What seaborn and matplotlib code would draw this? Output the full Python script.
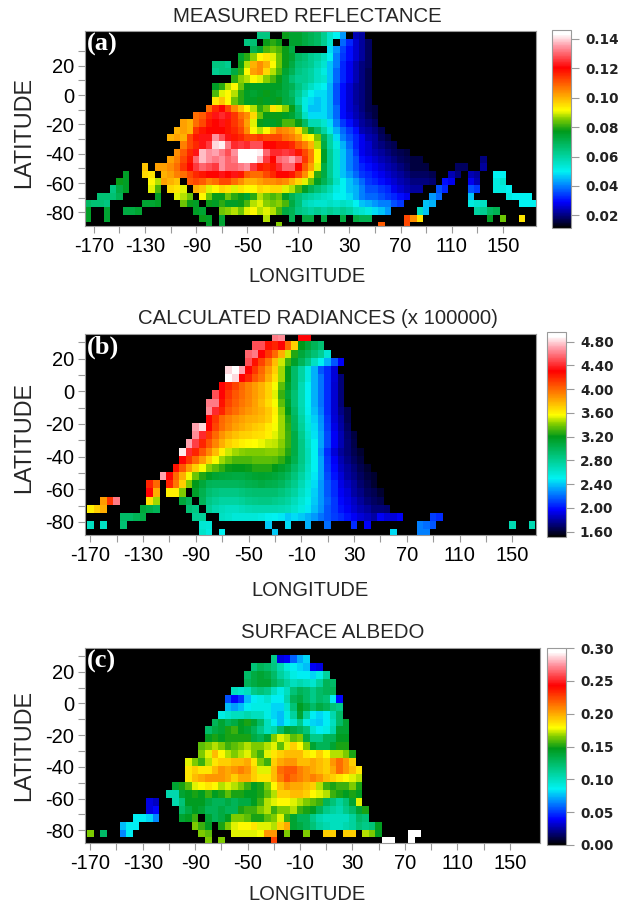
import numpy as np
import pandas as pd
import matplotlib.pyplot as plt
import seaborn as sns
from matplotlib.colors import LinearSegmentedColormap

# each entry: latitude, first longitude of the run, values going east every 5 deg
# panel a: reflectance x 1000
refl_cells = [
    (41, -40, [64, 64]), (41, -20, [78, 75, 75, 72, 70, 68, 62, 55, 50, 42]), (41, 35, [24, 22]),
    (36, -50, [64, 66]), (36, -35, [78, 80, 78]), (36, -15, [75, 75, 72, 70, 68, 62, 55]), (36, 25, [38, 32, 26, 22, 18]),
    (31, -45, [70, 74, 82, 84, 82, 78, 72]), (31, 15, [48, 42, 35, 30, 26, 22, 18]),
    (26, -55, [75, 80, 86, 92, 94, 90, 84, 78, 74, 68, 66, 62, 60, 56, 50, 40, 34, 30, 26, 22, 18]),
    (21, -75, [64, 64, 62]), (21, -55, [78, 88, 100, 104, 100, 92, 84, 78, 72, 66, 64, 62, 58, 54, 46, 40, 32, 28, 24, 20, 18]),
    (16, -75, [62, 64, 64]), (16, -60, [72, 80, 92, 102, 104, 96, 88, 82, 74, 70, 64, 62, 60, 56, 52, 46, 38, 32, 28, 24, 20, 17]),
    (11, -60, [80, 86, 88, 92, 90, 86, 82, 78, 72, 66, 62, 62, 60, 56, 54, 46, 38, 32, 28, 24, 20, 17]),
    (6, -75, [76, 80, 88, 92, 84, 78, 76, 76, 76, 76, 76, 72, 70, 64, 60, 56, 52, 50, 44, 36, 30, 26, 22, 20, 17]),
    (1, -75, [82, 90, 92, 88, 80, 76, 74, 76, 78, 76, 74, 72, 68, 62, 56, 50, 48, 48, 44, 36, 30, 26, 22, 20, 17]),
    (-4, -75, [94, 98, 92, 84, 80, 76, 76, 78, 76, 76, 78, 72, 70, 60, 52, 48, 46, 48, 44, 36, 30, 26, 22, 20, 17]),
    (-9, -80, [108, 116, 120, 112, 104, 98, 92, 88, 80, 84, 94, 90, 86, 78, 66, 52, 46, 46, 48, 44, 38, 30, 26, 23, 20, 17, 16]),
    (-14, -90, [108, 110, 116, 122, 124, 122, 114, 108, 104, 96, 84, 78, 78, 78, 76, 74, 68, 56, 48, 48, 48, 44, 38, 30, 27, 24, 21, 18, 16]),
    (-19, -100, [102, 100]),
    (-19, -90, [108, 112, 118, 120, 122, 118, 114, 110, 102, 90, 78, 76, 76, 78, 82, 82, 78, 68, 58, 58, 54, 48, 40, 34, 30, 26, 22, 20, 18]),
    (-24, -105, [100, 102, 100]),
    (-24, -90, [114, 118, 120, 120, 120, 118, 116, 112, 104, 92, 88, 92, 100, 106, 104, 102, 96, 84, 74, 68, 60, 52, 44, 38, 34, 30, 24, 22, 20, 17]),
    (-29, -110, [100, 102, 100]),
    (-29, -95, [112, 118, 122, 122, 134, 128, 122, 118, 116, 112, 112, 114, 112, 112, 112, 108, 106, 102, 94, 92, 85, 70, 60, 48, 40, 36, 32, 28, 24, 22, 18, 16]),
    (-34, -100, [106, 112, 116, 122, 126, 140, 142, 132, 124, 126, 124, 128, 128, 120, 120, 118, 118, 116, 110, 106, 100, 88, 72, 60, 52, 44, 38, 32, 28, 26, 22, 20, 18, 17]),
    (-39, -105, [104, 110, 116, 122, 138, 134, 136, 132, 128, 134, 145, 146, 146, 142, 130, 124, 124, 126, 124, 118, 112, 106, 92, 76, 62, 54, 46, 40, 34, 28, 26, 24, 22, 20, 18, 17, 16]),
    (-44, -110, [102, 106, 112, 118, 130, 138, 134, 132, 134, 130, 132, 144, 146, 144, 138, 126, 120, 130, 132, 136, 130, 114, 106, 92, 76, 62, 54, 46, 40, 36, 30, 28, 26, 24, 22, 20, 18, 17, 16, 16]),
    (-44, 135, [20]),
    (-49, -130, [98]),
    (-49, -120, [102, 102, 104, 108, 114, 120, 126, 130, 128, 126, 134, 130, 130, 132, 134, 126, 118, 116, 118, 124, 130, 130, 120, 110, 102, 90, 72, 62, 54, 46, 40, 36, 32, 30, 28, 26, 24, 22, 20, 18, 16, 16, 16]),
    (-49, 115, [18, 18]), (-49, 135, [22]),
    (-54, -145, [76]), (-54, -130, [96, 94]),
    (-54, -115, [100, 102, 106, 108, 112, 116, 118, 120, 120, 122, 120, 122, 118, 110, 108, 108, 112, 116, 120, 120, 118, 112, 104, 94, 80, 72, 62, 54, 46, 42, 38, 34, 32, 30, 28, 26, 24, 22, 20, 18, 18, 18, 17]),
    (-54, 110, [24, 20]), (-54, 125, [24, 22]), (-54, 145, [50, 50]),
    (-59, -150, [78, 76]), (-59, -125, [92, 88]), (-59, -115, [102, 100, 98]),
    (-59, -95, [110, 112, 110, 106, 108, 112, 112, 108, 104, 100, 100, 102, 104, 104, 106, 104, 100, 96, 90, 84, 76, 70, 64, 56, 50, 46, 42, 38, 34, 32, 30, 28, 26, 24, 22, 20, 20, 20, 19]),
    (-59, 105, [30, 28]), (-59, 125, [28, 24]), (-59, 145, [52, 54]),
    (-64, -155, [64, 72, 76]), (-64, -125, [90, 82]), (-64, -110, [96, 94, 90]),
    (-64, -90, [100, 98, 90, 92, 96, 94, 90, 94, 92, 92, 96, 94, 96, 96, 90, 88, 82, 76, 70, 66, 62, 58, 52, 50, 46, 44, 40, 36, 36, 34, 32, 28, 26, 24, 22, 22]),
    (-64, 100, [36, 32]), (-64, 125, [36, 34]), (-64, 145, [52, 52, 50]),
    (-69, -165, [66, 66, 66, 70]), (-69, -120, [76]), (-69, -105, [90, 88, 84]),
    (-69, -85, [92, 84, 78, 78, 84, 80, 78, 74, 80, 88, 84, 82, 84, 76, 70, 66, 62, 60, 58, 56, 54, 50, 50, 48, 44, 40, 38, 38, 36, 34, 32, 30, 28]),
    (-69, 95, [42, 38]), (-69, 125, [46]), (-69, 155, [52, 50, 50, 50]),
    (-74, -175, [68, 66, 66, 64]), (-74, -130, [74, 74, 76]), (-74, -100, [84, 78, 76]),
    (-74, -80, [78, 76, 80, 76, 76, 78, 82, 88, 90, 86, 84, 86, 82, 72, 66, 58, 56, 54, 54, 56, 54, 56, 54, 50, 46, 44, 42, 40, 40, 36, 34]),
    (-74, 90, [46, 44]), (-74, 125, [52, 54, 56]), (-74, 165, [50, 50, 50]),
    (-79, -175, [76]), (-79, -160, [74]), (-79, -145, [72, 72, 74]), (-79, -90, [76, 74]),
    (-79, -70, [84, 86, 88, 84, 90, 92, 88, 90, 88, 82, 72, 70, 64, 62, 60, 62, 60, 62, 60, 62, 60, 56, 54, 52, 48, 46, 42]),
    (-79, 85, [56, 46]), (-79, 130, [60, 62, 68, 70]),
    (-84, -175, [76]), (-84, -160, [74]), (-84, -85, [78, 76]), (-84, -70, [74]),
    (-84, -35, [88]), (-84, -15, [70]), (-84, -5, [72, 72]), (-84, 10, [72]), (-84, 25, [72]), (-84, 35, [72, 70, 70]),
    (-84, 75, [112, 104, 94]), (-84, 140, [76]), (-84, 150, [84]), (-84, 165, [94]),
    (-89, -80, [76]), (-89, -70, [74]), (-89, -25, [86]), (-89, 55, [110]), (-89, 75, [112]),
]

# panel b: radiance x 100 (already scaled by 100000 in the title)
rad_cells = [
    (33, -30, [460, 465]), (33, -10, [430, 430]),
    (28, -35, [425, 420, 430, 400, 370, 320, 310, 300, 290]), (28, -45, [450, 450]),
    (23, -50, [455, 460, 430, 415, 400, 380, 350, 325, 310, 300, 290, 280, 260]),
    (18, -50, [450, 425, 410, 395, 375, 350, 330, 315, 300, 285, 265, 250, 235, 215, 195]),
    (13, -65, [480, 490, 470, 430, 415, 400, 385, 370, 345, 320, 295, 275, 255, 235, 215, 205, 190]),
    (8, -65, [490, 480, 430, 420, 405, 395, 380, 365, 345, 320, 295, 275, 255, 235, 222, 205, 190, 172]),
    (3, -70, [430, 420, 410, 400, 392, 385, 378, 368, 355, 335, 315, 295, 270, 250, 235, 222, 205, 188, 172]),
    (-2, -75, [450, 430, 415, 405, 398, 392, 385, 378, 368, 352, 330, 310, 290, 270, 250, 235, 222, 205, 188, 172]),
    (-7, -80, [460, 460, 425, 410, 402, 396, 390, 384, 376, 366, 355, 335, 315, 290, 270, 250, 235, 222, 205, 188, 172]),
    (-12, -80, [465, 440, 420, 405, 398, 392, 386, 382, 378, 372, 360, 342, 320, 295, 272, 252, 238, 225, 205, 188, 175, 165]),
    (-17, -80, [430, 415, 400, 393, 388, 384, 380, 378, 375, 370, 358, 345, 325, 298, 275, 255, 242, 228, 208, 190, 178, 165]),
    (-22, -90, [470, 480, 430, 410, 398, 390, 384, 380, 376, 372, 368, 362, 355, 345, 328, 300, 278, 258, 244, 230, 210, 192, 180, 168]),
    (-27, -90, [465, 440, 415, 400, 388, 380, 374, 370, 368, 366, 364, 360, 352, 345, 330, 305, 282, 262, 246, 232, 212, 195, 182, 170, 162]),
    (-32, -95, [470, 445, 420, 405, 392, 380, 370, 364, 360, 358, 356, 354, 350, 348, 342, 330, 305, 285, 265, 250, 232, 212, 195, 182, 172, 164]),
    (-37, -100, [485, 440, 420, 405, 390, 375, 360, 350, 345, 342, 340, 340, 340, 342, 342, 338, 325, 305, 285, 268, 250, 228, 205, 190, 178, 172, 165, 160]),
    (-42, -100, [430, 415, 400, 385, 370, 355, 345, 338, 332, 332, 332, 335, 335, 335, 333, 328, 318, 302, 285, 268, 250, 232, 208, 195, 182, 175, 168, 162]),
    (-47, -105, [425, 405, 385, 370, 355, 342, 335, 328, 322, 320, 320, 322, 325, 325, 325, 320, 315, 308, 295, 282, 265, 250, 232, 210, 198, 185, 178, 172, 165, 160]),
    (-52, -115, [470, 430, 400, 380, 355, 338, 325, 318, 312, 310, 308, 306, 306, 310, 312, 314, 312, 310, 305, 298, 288, 275, 262, 248, 232, 212, 200, 190, 180, 175, 168, 162, 160]),
    (-57, -125, [420, 400]),
    (-57, -110, [420, 395, 370, 340, 320, 310, 300, 298, 298, 298, 298, 300, 302, 304, 306, 304, 302, 298, 290, 282, 270, 258, 245, 230, 215, 205, 192, 185, 178, 170, 165, 160]),
    (-62, -125, [430, 380]), (-62, -110, [360, 360, 340]),
    (-62, -90, [315, 302, 292, 288, 285, 285, 285, 288, 290, 292, 292, 292, 292, 288, 282, 275, 265, 255, 242, 230, 215, 205, 195, 190, 180, 175, 168, 165, 160]),
    (-67, -160, [385, 415, 460]), (-67, -125, [365, 345]), (-67, -100, [310, 300]),
    (-67, -85, [300, 285, 280, 275, 275, 275, 278, 282, 284, 285, 285, 282, 280, 275, 268, 260, 252, 240, 230, 218, 208, 198, 192, 185, 178, 172, 168, 165]),
    (-72, -170, [360, 370, 380]), (-72, -130, [310, 305, 300]), (-72, -95, [290, 285]),
    (-72, -80, [280, 272, 268, 265, 265, 268, 270, 272, 272, 272, 272, 270, 268, 262, 255, 248, 238, 228, 215, 208, 200, 195, 188, 182, 178, 172, 172, 170]),
    (-77, -145, [295, 295, 300, 305]), (-77, -90, [280, 278]),
    (-77, -70, [265, 262, 258, 258, 258, 258, 255, 252, 250, 248, 240, 245, 240, 235, 230, 222, 215, 210, 205, 200, 195, 190, 185, 180, 195, 190, 190, 195]),
    (-77, 90, [210, 205]),
    (-82, -170, [265]), (-82, -160, [265]), (-82, -145, [290]), (-82, -85, [260, 258]),
    (-82, -35, [240]), (-82, -20, [245]), (-82, -5, [235]), (-82, 10, [220]), (-82, 30, [205]), (-82, 40, [195]),
    (-82, 80, [225, 220, 215]), (-82, 150, [270]), (-82, 165, [270]),
    (-87, -85, [262, 255]), (-87, -70, [250]), (-87, -30, [240]), (-87, 60, [245]), (-87, 80, [225, 225]),
]

# panel c: albedo x 1000
alb_cells = [
    (28, -30, [115, 35, 38, 58, 72, 80]),
    (23, -45, [120, 130, 125, 118, 105, 92, 85, 80, 75, 38, 35]),
    (18, -50, [125, 135, 140, 135, 125, 110, 100, 90, 85, 85, 80, 90, 110]),
    (13, -50, [130, 135, 140, 140, 130, 120, 110, 100, 105, 100, 95, 110, 130, 125]),
    (8, -60, [100, 95, 100, 115, 120, 115, 100, 90, 100, 120, 130, 125, 115, 125, 130, 130]),
    (3, -65, [55, 40, 50, 75, 85, 90, 95, 85, 85, 105, 130, 135, 125, 115, 125, 120, 85, 40]),
    (-2, -65, [75, 70, 75, 85, 90, 90, 90, 80, 80, 95, 120, 145, 135, 125, 135, 130, 120, 115]),
    (-7, -70, [90, 95, 100, 100, 105, 100, 100, 90, 80, 75, 90, 110, 140, 110, 85, 80, 85, 105, 125]),
    (-12, -75, [130, 140, 130, 135, 145, 150, 140, 125, 100, 85, 75, 85, 95, 115, 90, 80, 78, 85, 100, 125, 140]),
    (-17, -80, [125, 135, 140, 150, 155, 145, 140, 130, 115, 100, 105, 125, 140, 135, 130, 120, 95, 85, 90, 105, 140, 140]),
    (-22, -80, [145, 150, 145, 150, 150, 150, 150, 135, 130, 140, 165, 175, 170, 160, 165, 135, 115, 115, 130, 130, 145, 145]),
    (-27, -85, [160, 165, 170, 165, 155, 160, 165, 170, 165, 165, 170, 175, 160, 175, 190, 180, 165, 140, 130, 130, 140, 150, 150]),
    (-32, -85, [165, 175, 195, 180, 170, 165, 170, 175, 165, 155, 175, 185, 190, 195, 195, 195, 185, 180, 190, 180, 170, 170, 165, 150]),
    (-37, -95, [175, 165, 155, 170, 185, 190, 190, 195, 195, 200, 185, 165, 155, 190, 200, 205, 205, 195, 195, 200, 195, 190, 205, 215, 205, 190]),
    (-42, -95, [185, 190, 185, 185, 195, 205, 200, 205, 210, 205, 190, 175, 175, 195, 215, 220, 220, 210, 205, 200, 195, 190, 200, 215, 205, 195, 185]),
    (-47, -95, [185, 195, 200, 205, 205, 205, 200, 190, 200, 200, 190, 185, 185, 195, 210, 222, 215, 210, 205, 210, 205, 195, 190, 185, 180, 175, 170]),
    (-52, -105, [140, 150, 160, 175, 180, 185, 180, 170, 175, 170, 165, 155, 145, 150, 165, 180, 195, 205, 200, 200, 195, 190, 170, 155, 150, 155, 155, 165, 150]),
    (-57, -110, [105, 105, 140, 145, 150, 145, 155, 145, 150, 160, 150, 150, 145, 145, 150, 160, 170, 190, 190, 195, 195, 190, 180, 175, 170, 155, 150, 145, 150, 145]),
    (-62, -125, [35, 30]), (-62, -105, [105, 120]),
    (-62, -95, [145, 145, 145, 135, 130, 130, 135, 130, 135, 135, 145, 155, 170, 175, 180, 180, 175, 170, 165, 160, 155, 130, 120, 110, 120, 140, 175]),
    (-67, -125, [35, 40]), (-67, -100, [125, 135]),
    (-67, -90, [145, 140, 130, 130, 135, 130, 130, 150, 155, 155, 165, 170, 155, 165, 165, 170, 155, 150, 145, 130, 115, 110, 105, 115, 125, 140, 150]),
    (-72, -135, [85, 85, 80, 65]), (-72, -100, [140, 145, 155]),
    (-72, -80, [140, 130, 135, 145, 165, 165, 160, 150, 150, 160, 165, 175, 155, 140, 130, 130, 115, 105, 100, 100, 100, 100, 110, 125, 120]),
    (-77, -145, [75, 85, 85]), (-77, -90, [165, 155, 145]),
    (-77, -70, [150, 165, 175, 180, 180, 185, 175, 175, 170, 190, 200, 140, 135, 130, 120, 110, 105, 100, 100, 105, 110, 120, 115, 120]),
    (-77, 50, [145]),
    (-82, -170, [165]), (-82, -160, [125]), (-82, -145, [65, 85]), (-82, -85, [165, 160]),
    (-82, -60, [175, 175, 175, 175, 178]), (-82, -35, [205, 205]), (-82, -20, [165]), (-82, -5, [165]),
    (-82, 10, [190, 190]), (-82, 25, [190, 190]), (-82, 40, [170, 165]), (-82, 50, [145]), (-82, 75, [300, 300]),
    (-87, -80, [165]), (-87, -70, [165]), (-87, -30, [225]), (-87, 55, [300, 300]), (-87, 75, [300]),
]

lons = list(range(-175, 180, 5))
lats_a = list(range(41, -94, -5))
lats_bc = list(range(33, -92, -5))

x_major = [-170, -130, -90, -50, -10, 30, 70, 110, 150]
x_minor = [-150, -110, -70, -30, 10, 50, 90, 130]
y_major = [20, 0, -20, -40, -60, -80]
y_minor = [30, 10, -10, -30, -50, -70]

titles = ['MEASURED REFLECTANCE', 'CALCULATED RADIANCES (x 100000)', 'SURFACE ALBEDO']
panel_tags = ['(a)', '(b)', '(c)']
cbar_ticks_a = [0.02, 0.04, 0.06, 0.08, 0.10, 0.12, 0.14]
cbar_ticks_b = [1.6, 2.0, 2.4, 2.8, 3.2, 3.6, 4.0, 4.4, 4.8]
cbar_ticks_c = [0.0, 0.05, 0.10, 0.15, 0.20, 0.25, 0.30]

rainbow = LinearSegmentedColormap.from_list('rainbow_white', [
    (0.0, (0, 0, 0)), (0.05, (0, 0, 0.4)), (0.13, (0, 0, 1)), (0.22, (0, 0.55, 1)),
    (0.285, (0, 0.95, 0.95)), (0.38, (0, 0.8, 0.55)), (0.49, (0, 0.6, 0.1)),
    (0.55, (0.5, 0.8, 0)), (0.595, (1, 1, 0)), (0.68, (1, 0.6, 0)), (0.81, (1, 0, 0)),
    (0.92, (1, 0.6, 0.65)), (0.98, (1, 1, 1)), (1.0, (1, 1, 1))], N=256)


def cells_to_table(cells, lats, scale):
    rows = []
    for lat, lon0, vals in cells:
        for i, v in enumerate(vals):
            rows.append((lat, lon0 + 5 * i, v / scale))
    df = pd.DataFrame(rows, columns=['lat', 'lon', 'val']).drop_duplicates(['lat', 'lon'])
    return df.pivot(index='lat', columns='lon', values='val').reindex(index=lats, columns=lons)


sns.set_theme(style='white')
plt.rcParams['font.family'] = ['Liberation Sans', 'DejaVu Sans']
W, H = 622, 908
fig = plt.figure(figsize=(W / 100, H / 100), dpi=100)
GRAY = '#9a9a9a'


def box(l, t, r, b):
    return [l / W, 1 - b / H, (r - l) / W, (b - t) / H]


panels = [
    dict(cells=refl_cells, lats=lats_a, scale=1000, ax=(85, 31, 536, 226), cax=(552, 30, 571, 228),
         lon=(-177, 176), lat=(43.7, -89.3), vmin=0.0114, vmax=0.146, ticks=cbar_ticks_a, fmt='%.2f',
         title_x=307, title_y=17, xlab_x=307, xlab_y=277, ylab_y=132),
    dict(cells=rad_cells, lats=lats_bc, scale=100, ax=(85, 334, 536, 535), cax=(547, 332, 566, 537),
         lon=(-174, 168), lat=(35, -88), vmin=1.51, vmax=4.96, ticks=cbar_ticks_b, fmt='%.2f',
         title_x=318, title_y=318, xlab_x=310, xlab_y=590, ylab_y=437),
    dict(cells=alb_cells, lats=lats_bc, scale=1000, ax=(85, 648, 540, 843), cax=(547, 648, 566, 845),
         lon=(-174, 173), lat=(35, -88), vmin=0.0, vmax=0.30, ticks=cbar_ticks_c, fmt='%.2f',
         title_x=333, title_y=633, xlab_x=307, xlab_y=895, ylab_y=745),
]

for n, p in enumerate(panels):
    ax = fig.add_axes(box(*p['ax']))
    cax = fig.add_axes(box(*p['cax']))
    ax.set_facecolor('black')
    table = cells_to_table(p['cells'], p['lats'], p['scale'])
    sns.heatmap(table, ax=ax, cbar_ax=cax, cmap=rainbow, vmin=p['vmin'], vmax=p['vmax'],
                xticklabels=False, yticklabels=False,
                cbar_kws={'ticks': p['ticks'], 'format': p['fmt']})

    # heatmap works in cell numbers, so move lon/lat into that space
    to_x = lambda v: (v - lons[0]) / 5 + 0.5
    to_y = lambda v: (p['lats'][0] - v) / 5 + 0.5
    ax.set_xlim(to_x(p['lon'][0]), to_x(p['lon'][1]))
    ax.set_ylim(to_y(p['lat'][1]), to_y(p['lat'][0]))
    ax.set_xticks([to_x(v) for v in x_major])
    ax.set_xticklabels(x_major, fontsize=14.5)
    ax.set_xticks([to_x(v) for v in x_minor], minor=True)
    ax.set_yticks([to_y(v) for v in y_major])
    ax.set_yticklabels(y_major, fontsize=14.5)
    ax.set_yticks([to_y(v) for v in y_minor], minor=True)
    ax.tick_params(which='both', length=5, width=0.8, bottom=True, left=True, pad=3, colors='black')
    ax.tick_params(which='both', color=GRAY)
    ax.set_xlabel('')
    ax.set_ylabel('')
    for s in ax.spines.values():
        s.set_visible(True)
        s.set_color(GRAY)
        s.set_linewidth(0.8)

    ax.text(0.005, 0.99, panel_tags[n], transform=ax.transAxes, color='white', fontsize=19,
            fontweight='bold', family='Liberation Serif', va='top', ha='left')

    cax.tick_params(length=6, width=0.8, color=GRAY, labelsize=9.8, labelcolor='#222222', pad=4, right=True)
    for lab in cax.get_yticklabels():
        lab.set_family('DejaVu Sans')
        lab.set_fontweight('bold')
    cbar = ax.collections[0].colorbar
    cbar.outline.set_visible(True)
    cbar.outline.set_edgecolor(GRAY)
    cbar.outline.set_linewidth(0.8)

    fig.text(p['title_x'] / W, 1 - p['title_y'] / H, titles[n], ha='center', va='center', fontsize=14.7)
    fig.text(p['xlab_x'] / W, 1 - p['xlab_y'] / H, 'LONGITUDE', ha='center', va='center', fontsize=14.5)
    fig.text(24 / W, 1 - p['ylab_y'] / H, 'LATITUDE', ha='center', va='center', rotation=90, fontsize=16.8)

fig.savefig('out.png', dpi=100)
